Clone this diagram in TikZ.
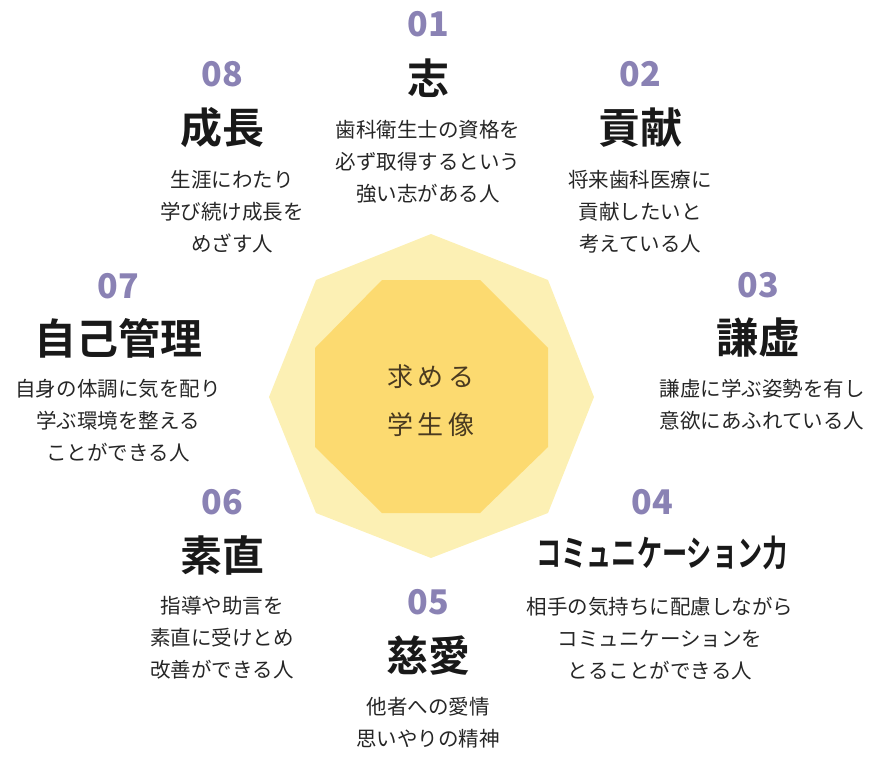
\documentclass[tikz,border=0pt]{standalone}
\usepackage{fontspec}
\setmainfont{Noto Sans CJK JP}
\newfontfamily\cjkb{Noto Sans CJK JP Bold}
\begin{document}
\begin{tikzpicture}[x=1pt,y=-1pt,
  num/.style={text=numc,font=\fontsize{34}{34}\selectfont\bfseries},
  ttl/.style={text=black!90,font=\fontsize{42}{42}\selectfont\cjkb},
  dsc/.style={text=black!85,font=\fontsize{20.5}{32}\selectfont,align=center},
  ctr/.style={text=ctrc,font=\fontsize{26}{48}\selectfont,align=center}]
\definecolor{numc}{HTML}{8A82B4}
\definecolor{outc}{HTML}{FCF0B4}
\definecolor{inc}{HTML}{FCDA70}
\definecolor{ctrc}{HTML}{4A3A20}
\useasboundingbox (0,0) rectangle (880,760);
\fill[outc] (431,234) -- (548,280) -- (594,397) -- (548,513) -- (431,558) -- (316,513) -- (269,397) -- (316,280) -- cycle;
\fill[inc] (382,280) -- (480,280) -- (548,348) -- (548,447) -- (480,513) -- (382,513) -- (315,447) -- (315,348) -- cycle;
\node[ctr] (c) at (431,401) {求\,め\,る\\学\,生\,像};
% 01
\node[num] (n1) at (428,24) {01};
\node[ttl] (t1) at (428,78) {志};
\node[dsc] (d1) at (428,162) {歯科衛生士の資格を\\必ず取得するという\\強い志がある人};
% 02
\node[num] (n2) at (640,74) {02};
\node[ttl] (t2) at (640,128) {貢献};
\node[dsc] (d2) at (640,212) {将来歯科医療に\\貢献したいと\\考えている人};
% 03
\node[num] (n3) at (758,285) {03};
\node[ttl] (t3) at (758,338) {謙虚};
\node[dsc] (d3) at (762,405) {謙虚に学ぶ姿勢を有し\\意欲にあふれている人};
% 04
\node[num] (n4) at (652,502) {04};
\node[ttl,font=\fontsize{36}{36}\selectfont\cjkb,xscale=0.7] (t4) at (662,553) {コミュニケーション力};
\node[dsc] (d4) at (660,639) {相手の気持ちに配慮しながら\\コミュニケーションを\\とることができる人};
% 05
\node[num] (n5) at (428,602) {05};
\node[ttl] (t5) at (428,656) {慈愛};
\node[dsc] (d5) at (428,723) {他者への愛情\\思いやりの精神};
% 06
\node[num] (n6) at (222,502) {06};
\node[ttl] (t6) at (222,555) {素直};
\node[dsc] (d6) at (222,638) {指導や助言を\\素直に受けとめ\\改善ができる人};
% 07
\node[num] (n7) at (118,286) {07};
\node[ttl] (t7) at (118,338) {自己管理};
\node[dsc] (d7) at (118,421) {自身の体調に気を配り\\学ぶ環境を整える\\ことができる人};
% 08
\node[num] (n8) at (222,74) {08};
\node[ttl] (t8) at (222,128) {成長};
\node[dsc] (d8) at (232,212) {生涯にわたり\\学び続け成長を\\めざす人};
\end{tikzpicture}
\end{document}
